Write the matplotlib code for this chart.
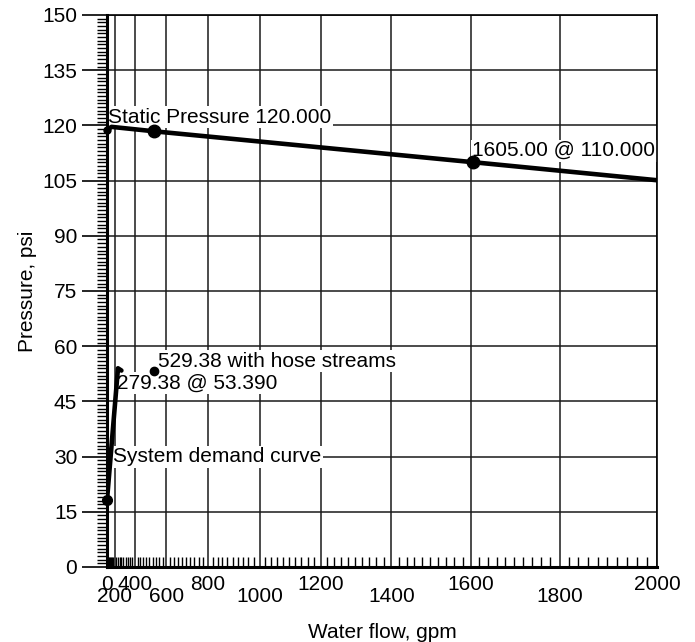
import numpy as np
import matplotlib
matplotlib.use("Agg")
import matplotlib.pyplot as plt

plt.rcParams['font.family'] = ['Liberation Sans', 'DejaVu Sans']

# water supply curve (flow gpm, pressure psi)
supply_q = [0, 150, 529.38, 1605.0, 2000]
supply_p = [118.8, 119.6, 118.4, 110.0, 105.1]
supply_marks_q = [0, 529.38, 1605.0]
supply_marks_p = [118.8, 118.4, 110.0]

# system demand curve
demand_q = [0, 241, 279.38]
demand_p = [18.2, 54.0, 53.39]
hose_q = [529.38]
hose_p = [53.39]

x_ticks = [0, 200, 400, 600, 800, 1000, 1200, 1400, 1600, 1800, 2000]
y_ticks = [0, 15, 30, 45, 60, 75, 90, 105, 120, 135, 150]

FS = 15


def fwd(x):
    x = np.asarray(x, dtype=float)
    return np.sign(x) * np.abs(x) ** 1.85


def inv(y):
    y = np.asarray(y, dtype=float)
    return np.sign(y) * np.abs(y) ** (1 / 1.85)


fig = plt.figure(figsize=(6.95, 6.42), dpi=100)
ax = fig.add_axes([107 / 695, 1 - 567 / 642, 550 / 695, 552 / 642])
ax.set_xscale('function', functions=(fwd, inv))
ax.set_xlim(0, 2000)
ax.set_ylim(0, 150)

# grille
ax.set_xticks(x_ticks)
ax.set_yticks(y_ticks)
ax.set_xticks(np.arange(0, 2001, 20), minor=True)
ax.set_yticks(np.arange(0, 151, 1), minor=True)
ax.grid(True, which='major', color='#1a1a1a', linewidth=1.1)

ax.tick_params(axis='x', which='major', length=0, labelsize=FS, pad=6)
ax.tick_params(axis='x', which='minor', direction='in', length=7, width=1, color='black')
ax.tick_params(axis='y', which='major', direction='out', length=18, width=1.2, labelsize=FS, pad=3.5)
ax.tick_params(axis='y', which='minor', direction='out', length=7, width=1)
ax.set_xticklabels([str(t) for t in x_ticks])
ax.set_yticklabels([str(t) for t in y_ticks])
# étiquettes en quinconce
for tick in ax.xaxis.get_major_ticks()[1::2]:
    tick.set_pad(14.5)

for side in ['left', 'bottom']:
    ax.spines[side].set_linewidth(2.2)
for side in ['top', 'right']:
    ax.spines[side].set_linewidth(1.2)

# courbes
ax.plot(supply_q, supply_p, color='black', linewidth=3.3, solid_capstyle='round', solid_joinstyle='round')
ax.plot(supply_marks_q[1:], supply_marks_p[1:], 'o', color='black', markersize=9)
ax.plot(supply_marks_q[:1], supply_marks_p[:1], 'o', color='black', markersize=5, clip_on=False)
ax.plot(demand_q, demand_p, color='black', linewidth=3.3, solid_capstyle='round', solid_joinstyle='round')
ax.plot(demand_q[:1], demand_p[:1], 'o', color='black', markersize=7, clip_on=False)
ax.plot(hose_q, hose_p, 'o', color='black', markersize=6)

box = dict(facecolor='white', edgecolor='none', pad=1)
kw = dict(textcoords='offset pixels', fontsize=FS, bbox=box, zorder=1.8)
ax.annotate(f"Static Pressure {120:.3f}", xy=(0, supply_p[0]), xytext=(1, 3), ha='left', va='bottom', **kw)
ax.annotate(f"{1605:.2f} @ {110:.3f}", xy=(1605, 110), xytext=(-1, 2), ha='left', va='bottom', **kw)
ax.annotate(f"{529.38:.2f} with hose streams", xy=(529.38, 53.39), xytext=(4, 0), ha='left', va='bottom', **kw)
ax.annotate(f"{279.38:.2f} @ {53.39:.3f}", xy=(279.38, 53.39), xytext=(-4, -3), ha='left', va='top', **kw)
ax.annotate("System demand curve", xy=(0, 30), xytext=(6, 0), ha='left', va='center', **kw)

ax.set_xlabel("Water flow, gpm", fontsize=FS, labelpad=12)
ax.set_ylabel("Pressure, psi", fontsize=FS, labelpad=4)

fig.savefig("out.png", dpi=100)
